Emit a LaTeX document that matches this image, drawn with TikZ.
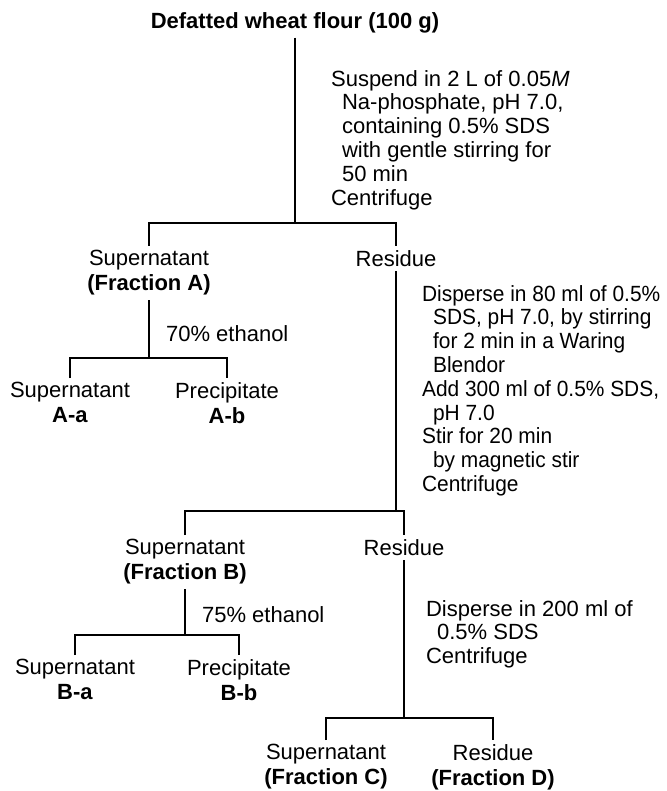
\documentclass[tikz,border=0pt]{standalone}
\usepackage{fontspec}
\setmainfont{Liberation Sans}
\newfontfamily\narrowfont[FakeStretch=0.95]{Liberation Sans}
\newcommand{\stepin}{\hspace*{11pt}}

\begin{document}
\begin{tikzpicture}[x=1pt, y=-1pt, line width=2.2pt,
    every node/.style={font=\fontsize{22}{23.8}\selectfont},
    lbl/.style={align=center, anchor=north, inner xsep=0pt, inner ysep=3.5pt,
                font=\fontsize{22}{25}\selectfont},
    stepnote/.style={align=left, anchor=north west, inner sep=0pt}]
  \useasboundingbox (0,0) rectangle (666,791);
  % starting material
  \node[font=\fontsize{22}{25}\selectfont\bfseries] (flour) at (295,23)
       {Defatted wheat flour (100 g)};
  \coordinate (j1) at (295,223);
  \draw (flour.south) -- (j1);
  \node[stepnote] (note1) at (330,69)
       {Suspend in 2 L of 0.05\textit{M}\\ \stepin Na-phosphate, pH 7.0,\\
        \stepin containing 0.5\% SDS\\ \stepin with gentle stirring for\\
        \stepin 50 min\\Centrifuge};
  % first split
  \node[lbl] (supA) at (149,246) {Supernatant\\\textbf{(Fraction A)}};
  \node[lbl] (resA) at (396,246) {Residue};
  \draw (supA.north) |- (j1) -| (resA.north);
  % ethanol split of fraction A
  \coordinate (jA) at (149,358);
  \draw (supA.south) -- (jA);
  \node[stepnote] (eth70) at (165,324) {70\% ethanol};
  \node[lbl] (supAa) at (70,378) {Supernatant\\\textbf{A-a}};
  \node[lbl] (preAb) at (227,378) {Precipitate\\\textbf{A-b}};
  \draw (supAa.north) |- (jA) -| (preAb.north);
  % residue of the first split
  \coordinate (j2) at (396,511);
  \draw (resA.south) -- (j2);
  \node[stepnote, font=\fontsize{22}{23.8}\narrowfont] (note2) at (421,284)
       {Disperse in 80 ml of 0.5\%\\ \stepin SDS, pH 7.0, by stirring\\
        \stepin for 2 min in a Waring\\ \stepin Blendor\\
        Add 300 ml of 0.5\% SDS,\\ \stepin pH 7.0\\
        Stir for 20 min\\ \stepin by magnetic stir\\Centrifuge};
  \node[lbl] (supB) at (185,535) {Supernatant\\\textbf{(Fraction B)}};
  \node[lbl] (resB) at (404,535) {Residue};
  \draw (supB.north) |- (j2) -| (resB.north);
  % ethanol split of fraction B
  \coordinate (jB) at (185,635);
  \draw (supB.south) -- (jB);
  \node[stepnote] (eth75) at (201,605) {75\% ethanol};
  \node[lbl] (supBa) at (75,655) {Supernatant\\\textbf{B-a}};
  \node[lbl] (preBb) at (239,655) {Precipitate\\\textbf{B-b}};
  \draw (supBa.north) |- (jB) -| (preBb.north);
  % last split
  \coordinate (j3) at (404,718);
  \draw (resB.south) -- (j3);
  \node[stepnote] (note3) at (425,599)
       {Disperse in 200 ml of\\ \stepin 0.5\% SDS\\Centrifuge};
  \node[lbl] (supC) at (326,740) {Supernatant\\\textbf{(Fraction C)}};
  \node[lbl] (resD) at (493,740) {Residue\\\textbf{(Fraction D)}};
  \draw (supC.north) |- (j3) -| (resD.north);
\end{tikzpicture}
\end{document}
